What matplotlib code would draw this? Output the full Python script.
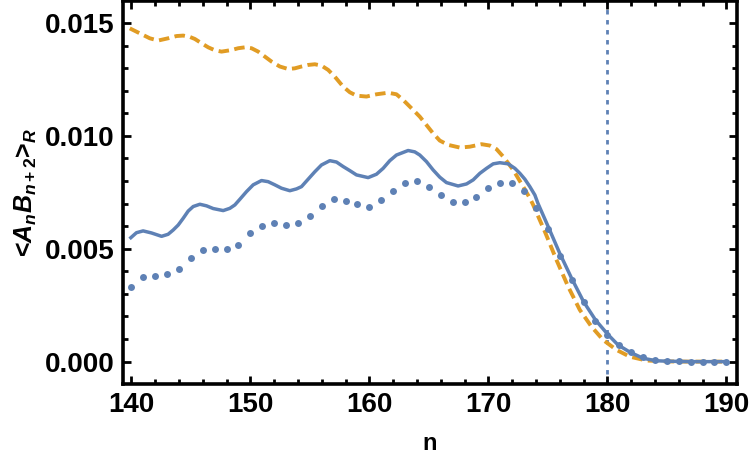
import matplotlib
matplotlib.use("Agg")
import matplotlib.pyplot as plt
from matplotlib.ticker import MultipleLocator, FormatStrFormatter

# ---- data ----
solid_n = [139.96, 140.43, 140.99, 141.69, 142.54, 143.09, 143.52, 143.94, 144.36, 144.78,
           145.20, 145.76, 146.32, 146.88, 147.72, 148.28, 148.70, 149.12, 149.68, 150.24,
           150.94, 151.50, 152.06, 152.62, 153.32, 153.88, 154.30, 154.86, 155.42, 155.98,
           156.68, 157.24, 157.80, 158.36, 158.92, 159.90, 160.60, 161.16, 161.72, 162.28,
           163.26, 163.82, 164.24, 164.80, 165.36, 165.92, 166.48, 167.46, 168.17, 168.73,
           169.29, 169.85, 170.41, 170.97, 171.67, 172.23, 172.65, 173.07, 173.49, 173.91,
           174.17, 175.03, 176.0, 177.0, 178.0, 179.0, 180.0, 180.9, 181.9, 183.0,
           184.1, 185, 186, 187, 188, 189, 190]
solid_v = [0.00549, 0.00571, 0.00579, 0.00570, 0.00555, 0.00564, 0.00583, 0.00605, 0.00635, 0.00667,
           0.00687, 0.00697, 0.00690, 0.00678, 0.00669, 0.00679, 0.00694, 0.00719, 0.00753, 0.00783,
           0.00802, 0.00797, 0.00783, 0.00768, 0.00757, 0.00765, 0.00775, 0.00808, 0.00841, 0.00871,
           0.00890, 0.00884, 0.00864, 0.00846, 0.00827, 0.00815, 0.00830, 0.00856, 0.00890, 0.00915,
           0.00935, 0.00929, 0.00915, 0.00886, 0.00849, 0.00817, 0.00793, 0.00778, 0.00787, 0.00805,
           0.00834, 0.00856, 0.00876, 0.00881, 0.00876, 0.00856, 0.00834, 0.00808, 0.00775, 0.00738,
           0.00701, 0.00598, 0.00480, 0.00369, 0.00266, 0.00185, 0.00123, 0.00074, 0.00042, 0.00015,
           0.00004, 0.00002, 0.00001, 0, 0, 0, 0]

dash_n = [139.87, 140.71, 141.55, 142.25, 143.09, 143.80, 144.36, 144.92, 145.34, 145.90,
          146.46, 147.02, 147.58, 148.42, 148.98, 149.54, 150.10, 150.66, 151.22, 151.78,
          152.48, 153.18, 153.74, 154.30, 154.86, 155.42, 155.98, 156.54, 157.10, 157.80,
          158.36, 158.92, 159.76, 160.60, 161.58, 162.28, 162.84, 163.68, 164.24, 164.80,
          165.36, 165.92, 166.62, 167.61, 168.45, 169.43, 170.13, 170.69, 171.25, 171.67,
          172.09, 172.51, 172.93, 173.49, 173.77, 174.75, 175.73, 176.71, 177.69, 178.67,
          179.65, 180.77, 181.89, 183.29, 185, 187, 190]
dash_v = [0.01476, 0.01454, 0.01432, 0.01422, 0.01432, 0.01442, 0.01444, 0.01438, 0.01429, 0.01410,
          0.01392, 0.01379, 0.01373, 0.01380, 0.01388, 0.01392, 0.01388, 0.01373, 0.01351, 0.01329,
          0.01307, 0.01296, 0.01299, 0.01307, 0.01314, 0.01317, 0.01311, 0.01292, 0.01262, 0.01218,
          0.01193, 0.01178, 0.01174, 0.01184, 0.01191, 0.01184, 0.01159, 0.01115, 0.01085, 0.01048,
          0.01011, 0.00979, 0.00960, 0.00948, 0.00952, 0.00963, 0.00957, 0.00941, 0.00908, 0.00879,
          0.00849, 0.00812, 0.00775, 0.00724, 0.00694, 0.00576, 0.00450, 0.00332, 0.00229, 0.00155,
          0.00096, 0.00052, 0.00022, 0.00005, 0.00001, 0, 0]

dot_n = list(range(140, 191))
dot_v = [0.00329, 0.00376, 0.00379, 0.00388, 0.00410, 0.00459, 0.00493, 0.00497, 0.00501, 0.00518,
         0.00571, 0.00600, 0.00616, 0.00603, 0.00612, 0.00645, 0.00689, 0.00721, 0.00711, 0.00700,
         0.00687, 0.00717, 0.00754, 0.00792, 0.00798, 0.00774, 0.00740, 0.00705, 0.00709, 0.00727,
         0.00770, 0.00791, 0.00791, 0.00757, 0.00680, 0.00587, 0.00469, 0.00363, 0.00264, 0.00181,
         0.00116, 0.00072, 0.00041, 0.00019, 0.00006, 0.00002, 0.00001, 0, 0, 0, 0]

vline_n = 180
x_ticks = [140, 150, 160, 170, 180, 190]
y_ticks = [0.000, 0.005, 0.010, 0.015]

# ---- style ----
plt.rcParams['font.family'] = ['Liberation Sans', 'DejaVu Sans']
plt.rcParams['font.weight'] = 'bold'
plt.rcParams['mathtext.fontset'] = 'custom'
plt.rcParams['mathtext.rm'] = 'Liberation Sans:bold'
plt.rcParams['mathtext.it'] = 'Liberation Sans:bold:italic'
plt.rcParams['mathtext.bf'] = 'Liberation Sans:bold'

BLUE = '#5E81B5'
ORANGE = '#E19C24'

fig = plt.figure(figsize=(7.5, 4.65), dpi=100)
ax = fig.add_axes([0.164, 0.1742, 0.9827 - 0.164, 0.9968 - 0.1742])

ax.axvline(vline_n, color=BLUE, lw=2.0, linestyle=(0, (1.6, 2.0)), zorder=1)
ax.plot(dash_n, dash_v, color=ORANGE, lw=2.8, linestyle=(0, (2.7, 1.4)), zorder=2)
ax.plot(solid_n, solid_v, color=BLUE, lw=2.5, solid_joinstyle='round', zorder=3)
ax.plot(dot_n, dot_v, linestyle='none', marker='o', ms=5.0, color=BLUE,
        markeredgewidth=0, zorder=4)

ax.set_xlim(139.3, 190.9)
ax.set_ylim(-0.00099, 0.01595)

ax.set_xticks(x_ticks)
ax.set_yticks(y_ticks)
ax.xaxis.set_minor_locator(MultipleLocator(2))
ax.yaxis.set_minor_locator(MultipleLocator(0.001))
ax.yaxis.set_major_formatter(FormatStrFormatter('%.3f'))

ax.tick_params(which='both', direction='in', top=True, right=True, width=2.0,
               labelsize=20, color='black')
ax.tick_params(which='major', length=6)
ax.tick_params(which='minor', length=3.5)
ax.tick_params(axis='x', which='major', pad=6)
ax.tick_params(axis='y', which='major', pad=6)
for lab in ax.get_xticklabels() + ax.get_yticklabels():
    lab.set_fontweight('bold')

for sp in ax.spines.values():
    sp.set_linewidth(2.6)
    sp.set_color('black')

ax.set_xlabel('n', fontsize=17, fontweight='bold', labelpad=10)
ax.set_ylabel(r'<$A_nB_{n+2}$>$_R$', fontsize=18, fontweight='bold', labelpad=4)

fig.savefig('out.png', dpi=100)
